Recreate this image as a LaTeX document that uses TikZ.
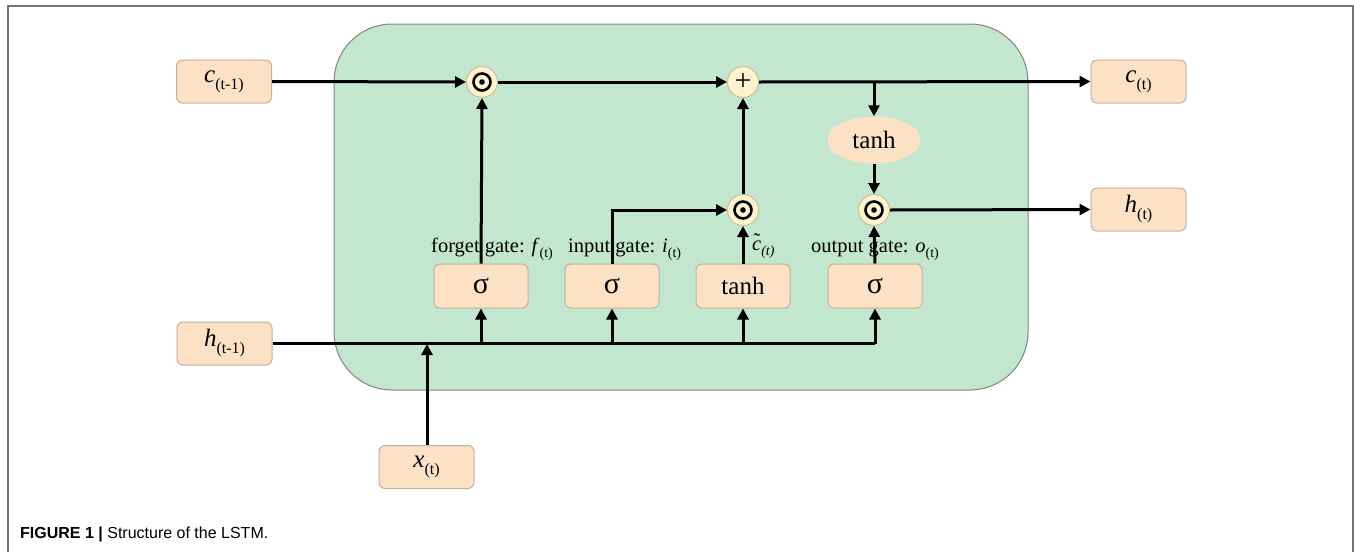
\documentclass[tikz,border=0pt]{standalone}
\usepackage{fontspec}
\setmainfont{Liberation Serif}
\newfontfamily\capfont{Liberation Sans}
\usetikzlibrary{arrows.meta,shapes.geometric}
\definecolor{cellgreen}{RGB}{195,230,206}
\definecolor{cellborder}{RGB}{125,135,128}
\definecolor{boxfill}{RGB}{252,225,196}
\definecolor{boxborder}{RGB}{196,176,156}
\definecolor{opfill}{RGB}{255,243,206}
\definecolor{opborder}{RGB}{205,190,150}
\definecolor{framegray}{RGB}{115,115,115}
\newcommand\bigtext{\fontsize{25}{29}\selectfont}
\newcommand\sigtext{\fontsize{30}{34}\selectfont}
\newcommand\lbltext{\fontsize{20.5}{24}\selectfont}
\newcommand\sbx[1]{\raisebox{-0.28em}{\fontsize{16}{18}\selectfont #1}}
\newcommand\sbl[1]{\raisebox{-0.25em}{\fontsize{14}{16}\selectfont #1}}
\newcommand\ctilde{\textit{c}\llap{\raisebox{0.12em}{\symbol{"02DC}}\hspace{0.04em}}}
\tikzset{
  cellbox/.style={fill=cellgreen,draw=cellborder,line width=1pt,rounded corners=58pt},
  iobox/.style={rectangle,rounded corners=6pt,fill=boxfill,draw=boxborder,line width=1pt,
    minimum width=95pt,minimum height=43pt,inner sep=0pt,font=\bigtext},
  gatebox/.style={iobox,minimum width=94pt,minimum height=44pt},
  sigbox/.style={gatebox,font=\sigtext},
  opnode/.style={circle,fill=opfill,draw=opborder,line width=1pt,minimum size=31pt,inner sep=0pt,font=\sigtext},
  odotnode/.style={opnode,path picture={
      \draw[black,line width=2.6pt] (path picture bounding box.center) circle (8.5pt);
      \fill[black] (path picture bounding box.center) circle (2.8pt);}},
  tanhell/.style={ellipse,fill=boxfill,draw=none,minimum width=93pt,minimum height=47pt,inner sep=0pt,font=\bigtext},
  arr/.style={-{Triangle[length=11pt,width=11pt]},line width=3pt},
  ln/.style={line width=3pt},
  lbl/.style={font=\lbltext,inner sep=0pt}
}
\begin{document}
\begin{tikzpicture}[x=1pt,y=-1pt]
\useasboundingbox (0,0) rectangle (1354,552);
% frame
\draw[framegray,line width=1.6pt] (8,552) -- (8,6) -- (1353,6) -- (1353,552);
% cell
\draw[cellbox] (334,24) rectangle (1028,390);
% nodes
\node[iobox] (cprev) at (224,81.5) {\textit{c}\sbx{(t-1)}};
\node[iobox] (ct) at (1138.5,81.5) {\textit{c}\sbx{(t)}};
\node[iobox] (ht) at (1138.5,209.5) {\textit{h}\sbx{(t)}};
\node[iobox] (hprev) at (224.5,343.5) {\textit{h}\sbx{(t-1)}};
\node[iobox] (xt) at (426.5,467) {\textit{x}\sbx{(t)}};
\node[odotnode] (m1) at (482,82) {};
\node[opnode] (plus) at (743,82) {+};
\node[odotnode] (m2) at (743,210) {};
\node[odotnode] (m3) at (874,210) {};
\node[tanhell] (tc) at (874,140) {tanh};
\node[sigbox] (fg) at (481,286) {σ};
\node[sigbox] (ig) at (612,286) {σ};
\node[gatebox] (cg) at (743,286) {tanh};
\node[sigbox] (og) at (875,286) {σ};
% labels
\node[lbl,anchor=base west] (fl) at (431,252) {forget gate: \textit{f}\sbl{(t)}};
\node[lbl,anchor=base west] (il) at (568,252) {input gate: \textit{i}\sbl{(t)}};
\node[lbl,anchor=base west] (cl) at (752,250) {\ctilde\sbl{\textit{(t)}}};
\node[lbl,anchor=base west] (ol) at (811,252) {output gate: \textit{o}\sbl{(t)}};
% coordinates
\coordinate (jx) at (427,344);
% connectors
\draw[arr] (cprev.east) -- (m1.west);
\draw[arr] (m1.east) -- (plus.west);
\draw[arr] (plus.east) -- (ct.west);
\draw[arr] (tc |- plus) -- (tc.north);
\draw[arr] (tc.south) -- (m3.north);
\draw[arr] (m3.east) -- (ht.west);
\draw[arr] (fg.north) -- (m1.south);
\draw[arr] (ig.north) |- (m2.west);
\draw[arr] (cg.north) -- (m2.south);
\draw[arr] (m2.north) -- (plus.south);
\draw[arr] (og.north) -- (m3.south);
\draw[ln] (hprev.east) -- (og.south |- hprev.east);
\draw[arr] (og.south |- hprev.east) -- (og.south);
\draw[arr] (fg.south |- hprev.east) -- (fg.south);
\draw[arr] (ig.south |- hprev.east) -- (ig.south);
\draw[arr] (cg.south |- hprev.east) -- (cg.south);
\draw[arr] (xt.north -| jx) -- (jx);
% caption
\node[anchor=base west,inner sep=0pt,font=\capfont\fontsize{16}{19}\selectfont] (cap) at (20,538)
  {\textbf{FIGURE 1 |} Structure of the LSTM.};
\end{tikzpicture}
\end{document}
